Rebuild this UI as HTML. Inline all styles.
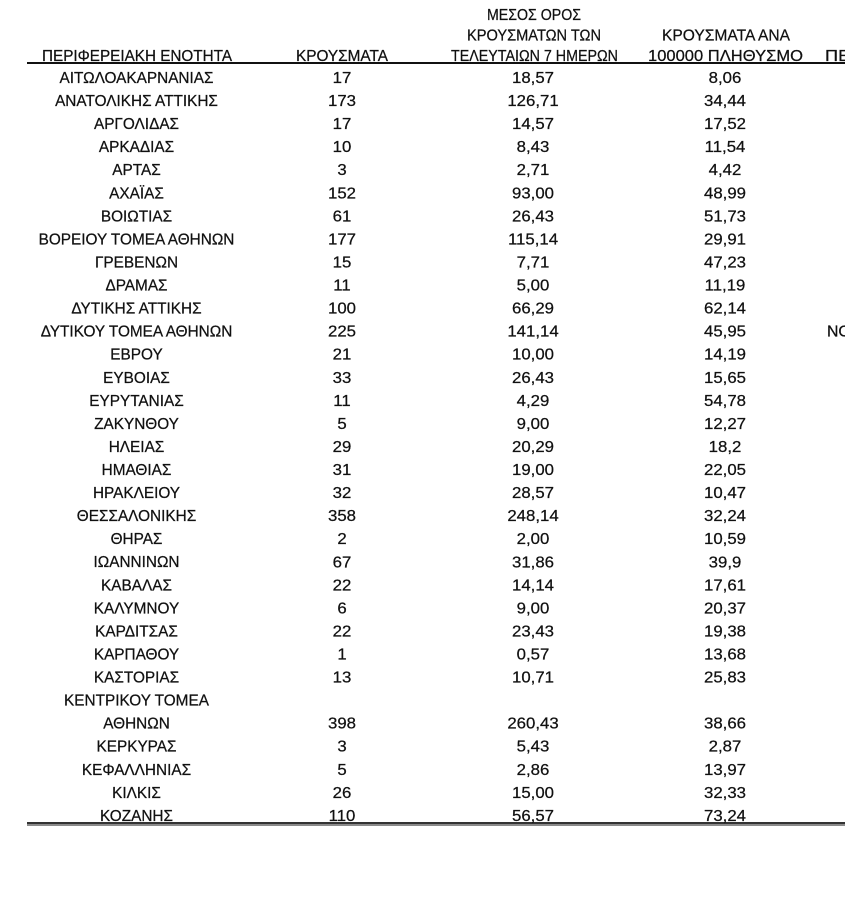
<!DOCTYPE html>
<html>
<head>
<meta charset="utf-8">
<style>
html,body{margin:0;padding:0;background:#fff;}
svg{display:block;}
text{font-family:"Liberation Sans", Arial, sans-serif;font-size:16px;fill:#111;stroke:#111;stroke-width:0.25px;}
</style>
</head>
<body>
<svg width="868" height="905" viewBox="0 0 868 905" xmlns="http://www.w3.org/2000/svg">
<defs><clipPath id="c"><rect x="0" y="0" width="845" height="905"/></clipPath></defs>
<rect width="868" height="905" fill="#fff"/>
<g clip-path="url(#c)">
<!-- headers -->
<text x="137" y="61" text-anchor="middle" textLength="190" lengthAdjust="spacingAndGlyphs">ΠΕΡΙΦΕΡΕΙΑΚΗ ΕΝΟΤΗΤΑ</text>
<text x="342" y="61" text-anchor="middle" textLength="92" lengthAdjust="spacingAndGlyphs">ΚΡΟΥΣΜΑΤΑ</text>
<text x="534" y="20" text-anchor="middle" textLength="94" lengthAdjust="spacingAndGlyphs">ΜΕΣΟΣ ΟΡΟΣ</text>
<text x="534" y="40.5" text-anchor="middle" textLength="134" lengthAdjust="spacingAndGlyphs">ΚΡΟΥΣΜΑΤΩΝ ΤΩΝ</text>
<text x="534.5" y="61" text-anchor="middle" textLength="167" lengthAdjust="spacingAndGlyphs">ΤΕΛΕΥΤΑΙΩΝ 7 ΗΜΕΡΩΝ</text>
<text x="726" y="40.5" text-anchor="middle" textLength="128" lengthAdjust="spacingAndGlyphs">ΚΡΟΥΣΜΑΤΑ ΑΝΑ</text>
<text x="725.5" y="61" text-anchor="middle" textLength="155" lengthAdjust="spacingAndGlyphs">100000 ΠΛΗΘΥΣΜΟ</text>
<text x="825" y="61" textLength="110" lengthAdjust="spacingAndGlyphs">ΠΕΡΙΦΕΡΕΙΑ</text>
<text x="827" y="336.66" textLength="60" lengthAdjust="spacingAndGlyphs">ΝΟΤΙΟΥ</text>

<rect x="27" y="62" width="818" height="2" fill="#111"/>
<rect x="27" y="822" width="818" height="2" fill="#333"/>
<rect x="27" y="824" width="818" height="2" fill="#8a8a8a"/>

<!-- column 1 names -->
<g transform="translate(136.5,0) scale(0.96,1)" text-anchor="middle">
<text x="0" y="83">ΑΙΤΩΛΟΑΚΑΡΝΑΝΙΑΣ</text>
<text x="0" y="106.06">ΑΝΑΤΟΛΙΚΗΣ ΑΤΤΙΚΗΣ</text>
<text x="0" y="129.12">ΑΡΓΟΛΙΔΑΣ</text>
<text x="0" y="152.18">ΑΡΚΑΔΙΑΣ</text>
<text x="0" y="175.24">ΑΡΤΑΣ</text>
<text x="0" y="198.3">ΑΧΑΪΑΣ</text>
<text x="0" y="221.36">ΒΟΙΩΤΙΑΣ</text>
<text x="0" y="244.42">ΒΟΡΕΙΟΥ ΤΟΜΕΑ ΑΘΗΝΩΝ</text>
<text x="0" y="267.48">ΓΡΕΒΕΝΩΝ</text>
<text x="0" y="290.54">ΔΡΑΜΑΣ</text>
<text x="0" y="313.6">ΔΥΤΙΚΗΣ ΑΤΤΙΚΗΣ</text>
<text x="0" y="336.66">ΔΥΤΙΚΟΥ ΤΟΜΕΑ ΑΘΗΝΩΝ</text>
<text x="0" y="359.72">ΕΒΡΟΥ</text>
<text x="0" y="382.78">ΕΥΒΟΙΑΣ</text>
<text x="0" y="405.84">ΕΥΡΥΤΑΝΙΑΣ</text>
<text x="0" y="428.9">ΖΑΚΥΝΘΟΥ</text>
<text x="0" y="451.96">ΗΛΕΙΑΣ</text>
<text x="0" y="475.02">ΗΜΑΘΙΑΣ</text>
<text x="0" y="498.08">ΗΡΑΚΛΕΙΟΥ</text>
<text x="0" y="521.14">ΘΕΣΣΑΛΟΝΙΚΗΣ</text>
<text x="0" y="544.2">ΘΗΡΑΣ</text>
<text x="0" y="567.26">ΙΩΑΝΝΙΝΩΝ</text>
<text x="0" y="590.32">ΚΑΒΑΛΑΣ</text>
<text x="0" y="613.38">ΚΑΛΥΜΝΟΥ</text>
<text x="0" y="636.44">ΚΑΡΔΙΤΣΑΣ</text>
<text x="0" y="659.5">ΚΑΡΠΑΘΟΥ</text>
<text x="0" y="682.56">ΚΑΣΤΟΡΙΑΣ</text>
<text x="0" y="705.62">ΚΕΝΤΡΙΚΟΥ ΤΟΜΕΑ</text>
<text x="0" y="728.68">ΑΘΗΝΩΝ</text>
<text x="0" y="751.74">ΚΕΡΚΥΡΑΣ</text>
<text x="0" y="774.8">ΚΕΦΑΛΛΗΝΙΑΣ</text>
<text x="0" y="797.86">ΚΙΛΚΙΣ</text>
<text x="0" y="820.92">ΚΟΖΑΝΗΣ</text>
</g>

<!-- column 2 cases -->
<g transform="translate(342,0) scale(1.05,1)" text-anchor="middle">
<text x="0" y="83">17</text>
<text x="0" y="106.06">173</text>
<text x="0" y="129.12">17</text>
<text x="0" y="152.18">10</text>
<text x="0" y="175.24">3</text>
<text x="0" y="198.3">152</text>
<text x="0" y="221.36">61</text>
<text x="0" y="244.42">177</text>
<text x="0" y="267.48">15</text>
<text x="0" y="290.54">11</text>
<text x="0" y="313.6">100</text>
<text x="0" y="336.66">225</text>
<text x="0" y="359.72">21</text>
<text x="0" y="382.78">33</text>
<text x="0" y="405.84">11</text>
<text x="0" y="428.9">5</text>
<text x="0" y="451.96">29</text>
<text x="0" y="475.02">31</text>
<text x="0" y="498.08">32</text>
<text x="0" y="521.14">358</text>
<text x="0" y="544.2">2</text>
<text x="0" y="567.26">67</text>
<text x="0" y="590.32">22</text>
<text x="0" y="613.38">6</text>
<text x="0" y="636.44">22</text>
<text x="0" y="659.5">1</text>
<text x="0" y="682.56">13</text>
<text x="0" y="728.68">398</text>
<text x="0" y="751.74">3</text>
<text x="0" y="774.8">5</text>
<text x="0" y="797.86">26</text>
<text x="0" y="820.92">110</text>
</g>

<!-- column 3 avg -->
<g transform="translate(533,0) scale(1.05,1)" text-anchor="middle">
<text x="0" y="83">18,57</text>
<text x="0" y="106.06">126,71</text>
<text x="0" y="129.12">14,57</text>
<text x="0" y="152.18">8,43</text>
<text x="0" y="175.24">2,71</text>
<text x="0" y="198.3">93,00</text>
<text x="0" y="221.36">26,43</text>
<text x="0" y="244.42">115,14</text>
<text x="0" y="267.48">7,71</text>
<text x="0" y="290.54">5,00</text>
<text x="0" y="313.6">66,29</text>
<text x="0" y="336.66">141,14</text>
<text x="0" y="359.72">10,00</text>
<text x="0" y="382.78">26,43</text>
<text x="0" y="405.84">4,29</text>
<text x="0" y="428.9">9,00</text>
<text x="0" y="451.96">20,29</text>
<text x="0" y="475.02">19,00</text>
<text x="0" y="498.08">28,57</text>
<text x="0" y="521.14">248,14</text>
<text x="0" y="544.2">2,00</text>
<text x="0" y="567.26">31,86</text>
<text x="0" y="590.32">14,14</text>
<text x="0" y="613.38">9,00</text>
<text x="0" y="636.44">23,43</text>
<text x="0" y="659.5">0,57</text>
<text x="0" y="682.56">10,71</text>
<text x="0" y="728.68">260,43</text>
<text x="0" y="751.74">5,43</text>
<text x="0" y="774.8">2,86</text>
<text x="0" y="797.86">15,00</text>
<text x="0" y="820.92">56,57</text>
</g>

<!-- column 4 per 100k -->
<g transform="translate(725,0) scale(1.05,1)" text-anchor="middle">
<text x="0" y="83">8,06</text>
<text x="0" y="106.06">34,44</text>
<text x="0" y="129.12">17,52</text>
<text x="0" y="152.18">11,54</text>
<text x="0" y="175.24">4,42</text>
<text x="0" y="198.3">48,99</text>
<text x="0" y="221.36">51,73</text>
<text x="0" y="244.42">29,91</text>
<text x="0" y="267.48">47,23</text>
<text x="0" y="290.54">11,19</text>
<text x="0" y="313.6">62,14</text>
<text x="0" y="336.66">45,95</text>
<text x="0" y="359.72">14,19</text>
<text x="0" y="382.78">15,65</text>
<text x="0" y="405.84">54,78</text>
<text x="0" y="428.9">12,27</text>
<text x="0" y="451.96">18,2</text>
<text x="0" y="475.02">22,05</text>
<text x="0" y="498.08">10,47</text>
<text x="0" y="521.14">32,24</text>
<text x="0" y="544.2">10,59</text>
<text x="0" y="567.26">39,9</text>
<text x="0" y="590.32">17,61</text>
<text x="0" y="613.38">20,37</text>
<text x="0" y="636.44">19,38</text>
<text x="0" y="659.5">13,68</text>
<text x="0" y="682.56">25,83</text>
<text x="0" y="728.68">38,66</text>
<text x="0" y="751.74">2,87</text>
<text x="0" y="774.8">13,97</text>
<text x="0" y="797.86">32,33</text>
<text x="0" y="820.92">73,24</text>
</g>
</g>
</svg>
</body>
</html>
